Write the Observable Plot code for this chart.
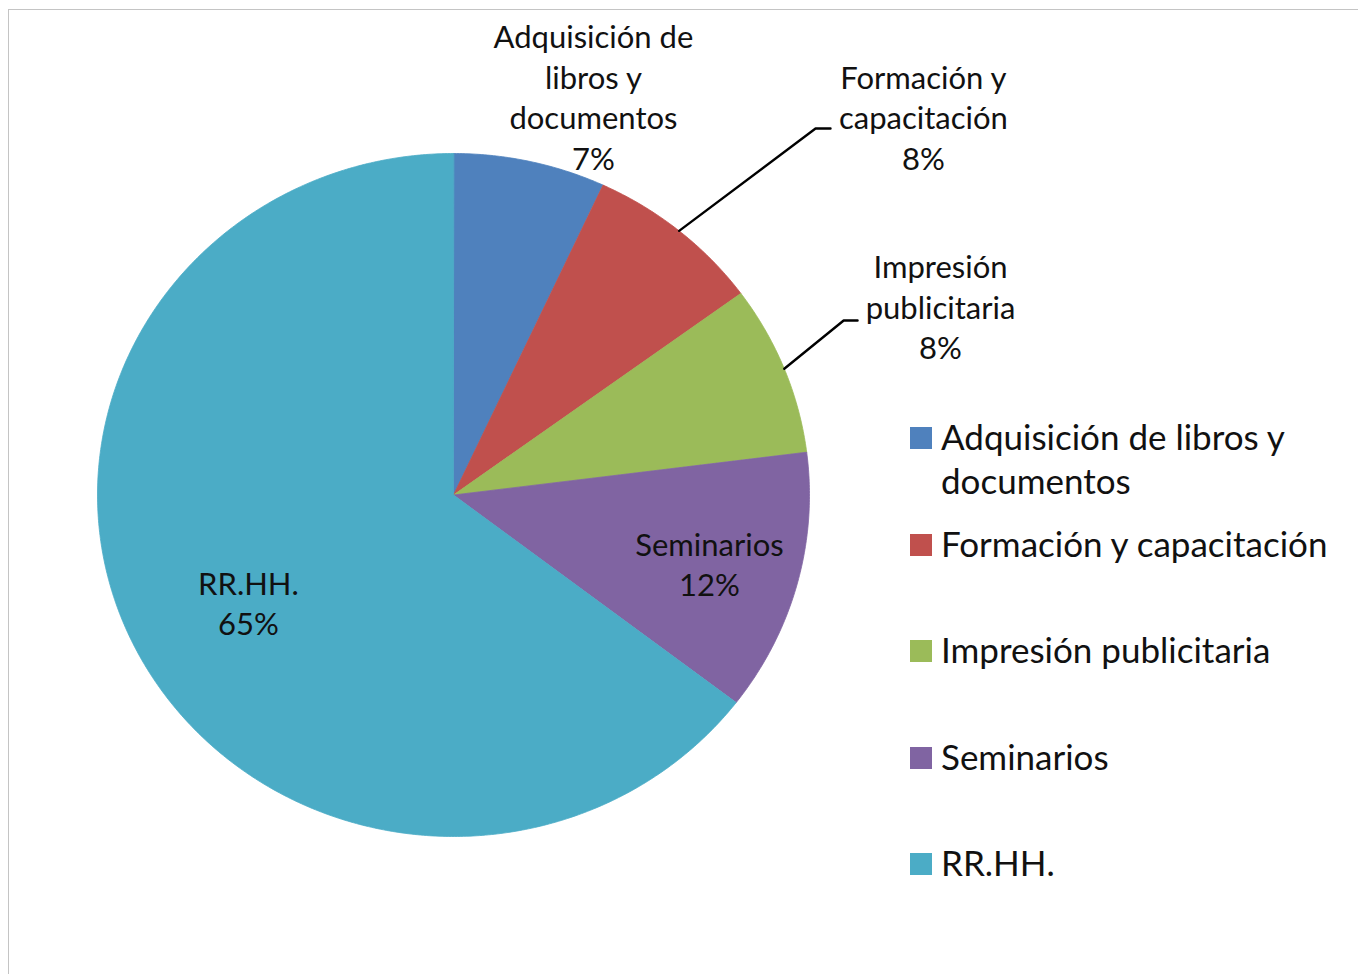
<!DOCTYPE html>
<html><head><meta charset="utf-8">
<script src="https://cdn.jsdelivr.net/npm/d3@7"></script>
<script src="https://cdn.jsdelivr.net/npm/@observablehq/plot@0.6"></script>
<style>
body{margin:0;background:#fff;font-family:Lato, "Open Sans", sans-serif;}
#wrap{position:relative;width:1358px;height:974px;overflow:hidden;}
#frame{position:absolute;left:8px;top:9px;width:1400px;height:1000px;border:1.5px solid #c4c4c4;box-sizing:border-box;}
#chart{position:absolute;left:0;top:0;}
.lg{position:absolute;left:910px;display:flex;align-items:flex-start;font-size:35px;line-height:44px;color:#111;white-space:nowrap;}
.lg .sw{width:22px;height:22px;margin-top:13px;margin-right:9px;flex:none;}
</style></head>
<body><div id="wrap"><div id="frame"></div><div id="chart"></div><div id="legend"></div></div>
<script>
// ---- data ----
const categories = ["Adquisición de libros y documentos", "Formación y capacitación", "Impresión publicitaria", "Seminarios", "RR.HH."];
const values = [6.9, 8.05, 8.05, 12.4, 64.6];
const colors = ["#4F81BD", "#C0504D", "#9BBB59", "#8064A2", "#4BACC6"];
const labelNames = ["Adquisición de\nlibros y\ndocumentos", "Formación y\ncapacitación", "Impresión\npublicitaria", "Seminarios", "RR.HH."];
const legendNames = ["Adquisición de libros y<br>documentos", "Formación y capacitación", "Impresión publicitaria", "Seminarios", "RR.HH."];

// ---- layout (unit-circle coordinates, y up) ----
const labelPos = [[0.393, 1.160], [1.320, 1.100], [1.368, 0.546], [0.719, -0.208], [-0.576, -0.322]];
const leaderElbow = [null, [[1.017, 1.073], [1.059, 1.073]], [[1.096, 0.511], [1.135, 0.511]], null, null];
const legendTop = [436, 543, 649, 756, 862];

const total = d3.sum(values);
const slices = [];
const arcs = [];
let acc = 0;
values.forEach((v, i) => {
  const a0 = acc / total * 2 * Math.PI;
  acc += v;
  const a1 = acc / total * 2 * Math.PI;
  const n = Math.max(4, Math.ceil((a1 - a0) / (Math.PI / 360)));
  slices.push({cat: categories[i], x: 0, y: 0});
  for (let j = 0; j <= n; j++) {
    const a = a0 + (a1 - a0) * j / n;
    slices.push({cat: categories[i], x: Math.sin(a), y: Math.cos(a)});
  }
  arcs.push({cat: categories[i], mid: (a0 + a1) / 2, pct: Math.round(v / total * 100)});
});

const labels = arcs.map((d, i) => ({
  text: labelNames[i] + "\n" + d.pct + "%",
  x: labelPos[i][0], y: labelPos[i][1]
}));

const leaders = [];
arcs.forEach((d, i) => {
  if (!leaderElbow[i]) return;
  leaders.push({g: i, x: Math.sin(d.mid), y: Math.cos(d.mid)});
  leaderElbow[i].forEach(p => leaders.push({g: i, x: p[0], y: p[1]}));
});

const color = {domain: categories, range: colors};

const chart = Plot.plot({
  width: 1358, height: 974,
  margin: 0,
  style: {background: "transparent", fontFamily: "Lato, 'Open Sans', sans-serif"},
  x: {domain: [-1, 1], range: [97, 809], axis: null},
  y: {domain: [-1, 1], range: [836, 153], axis: null},
  color,
  marks: [
    Plot.line(slices, {x: "x", y: "y", z: "cat", fill: "cat", stroke: "cat", strokeWidth: 0.8, curve: "linear-closed"}),
    Plot.line(leaders, {x: "x", y: "y", z: "g", stroke: "#000", strokeWidth: 2.4}),
    Plot.text(labels, {x: "x", y: "y", text: "text", fontSize: 31, lineHeight: 1.306, dy: -3, fill: "#111", textAnchor: "middle"})
  ]
});
document.getElementById("chart").appendChild(chart);

const legend = document.getElementById("legend");
categories.forEach((c, i) => {
  const row = document.createElement("div");
  row.className = "lg";
  row.style.top = (legendTop[i] - 22) + "px";
  row.innerHTML = `<span class="sw" style="background:${colors[i]}"></span><span>${legendNames[i]}</span>`;
  legend.appendChild(row);
});
</script>
</body></html>
